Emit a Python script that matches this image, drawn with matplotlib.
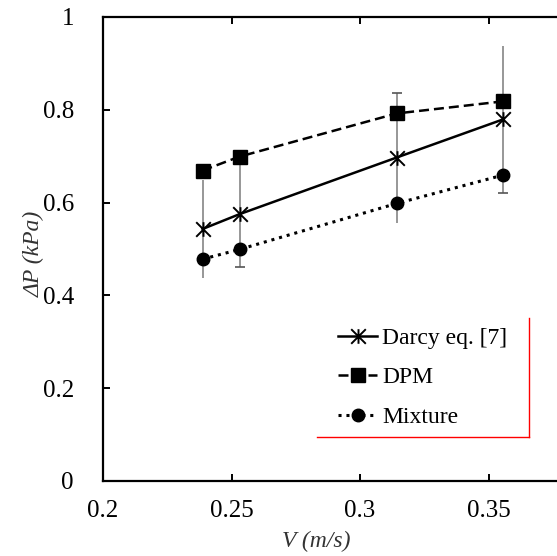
import numpy as np
import matplotlib
matplotlib.use("Agg")
import matplotlib.pyplot as plt
from matplotlib.path import Path
from matplotlib.lines import Line2D

FONT = "Liberation Serif"
plt.rcParams["font.family"] = [FONT, "DejaVu Serif"]

# data
velocity = np.array([0.2387, 0.2531, 0.3142, 0.3555])
darcy = np.array([0.543, 0.575, 0.697, 0.779])
dpm = np.array([0.669, 0.699, 0.792, 0.818])
mixture = np.array([0.478, 0.499, 0.598, 0.659])
darcy_err = np.array([0.106, 0.114, 0.140, 0.158])
# which error bar ends have a cap drawn
cap_low = np.array([False, True, False, True])
cap_high = np.array([False, False, True, False])

xticks = [0.2, 0.25, 0.3, 0.35]
xtick_labels = ["0.2", "0.25", "0.3", "0.35"]
yticks = [0, 0.2, 0.4, 0.6, 0.8, 1.0]
ytick_labels = ["0", "0.2", "0.4", "0.6", "0.8", "1"]

# excel style star: X with a vertical bar
star = Path(
    [(0, -1), (0, 1), (-1, -1), (1, 1), (-1, 1), (1, -1)],
    [Path.MOVETO, Path.LINETO] * 3,
)

fig = plt.figure(figsize=(5.57, 5.56), dpi=100)
ax = fig.add_axes([0.185, 0.135, 0.923, 0.8345])

ax.errorbar(
    velocity, darcy, yerr=darcy_err, fmt="none",
    ecolor="#8f8f8f", elinewidth=1.3, capsize=0, zorder=1,
)
ax.plot(velocity[cap_low], (darcy - darcy_err)[cap_low], "_",
        color="#555555", markersize=7, markeredgewidth=1.2, zorder=1)
ax.plot(velocity[cap_high], (darcy + darcy_err)[cap_high], "_",
        color="#555555", markersize=7, markeredgewidth=1.2, zorder=1)

ax.plot(velocity, darcy, color="black", linestyle="-", linewidth=1.8,
        marker=star, markersize=10.5, markeredgewidth=1.4,
        fillstyle="none", label="Darcy eq. [7]", zorder=3)
ax.plot(velocity, dpm, color="black", linestyle=(0, (4, 2)), linewidth=1.8,
        marker="s", markersize=10, label="DPM", zorder=3)
ax.plot(velocity, mixture, color="black", linestyle=(0, (1, 1.6)), linewidth=2.2,
        marker="o", markersize=9, label="Mixture", zorder=3)

ax.set_xlim(0.2, 0.4)
ax.set_ylim(0, 1)
ax.set_xticks(xticks)
ax.set_xticklabels(xtick_labels, fontfamily=FONT, fontsize=18)
ax.set_yticks(yticks)
ax.set_yticklabels(ytick_labels, fontfamily=FONT, fontsize=18)
ax.tick_params(axis="both", direction="in", length=5, width=1.4, colors="black")
ax.tick_params(axis="x", top=True, pad=14)
ax.tick_params(axis="y", pad=21)
for sp in ax.spines.values():
    sp.set_linewidth(1.6)

ax.set_xlabel("V (m/s)", fontsize=17, fontstyle="italic", fontfamily=FONT,
              color="#333333")
ax.xaxis.set_label_coords(0.414, -0.108)
ax.set_ylabel("ΔP (kPa)", fontsize=17, fontstyle="italic", fontfamily=FONT,
              color="#333333")
ax.yaxis.set_label_coords(-0.113, 0.49)

leg = ax.legend(
    loc="upper left", bbox_to_anchor=(0.5907, 0.428), bbox_transform=fig.transFigure,
    borderaxespad=0, prop={"family": FONT, "size": 17}, handlelength=1.65,
    handletextpad=0.2, labelspacing=0.76, borderpad=0.4, frameon=True,
    fancybox=False,
)
leg.get_frame().set_edgecolor("none")
leg.get_frame().set_facecolor("white")

# only the right and bottom edges of the legend box show, in red
fig.canvas.draw()
bb = leg.get_frame().get_window_extent().transformed(fig.transFigure.inverted())
extra = 12 / 557  # the red box is a little wider than the entries
fig.add_artist(Line2D([bb.x1 + extra, bb.x1 + extra], [bb.y0, bb.y1],
                      color="red", linewidth=1.0))
fig.add_artist(Line2D([bb.x0 - extra, bb.x1 + extra], [bb.y0, bb.y0],
                      color="red", linewidth=1.0))

fig.savefig("out.png", dpi=100)
